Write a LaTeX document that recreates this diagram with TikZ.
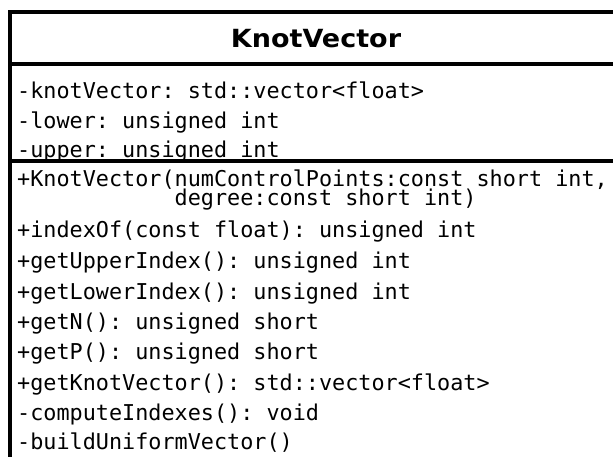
\documentclass[tikz,border=0pt]{standalone}
\usepackage{fontspec}
\setmainfont{DejaVu Sans}
\setmonofont{DejaVu Sans Mono}
\begin{document}
\begin{tikzpicture}[x=1pt,y=-1pt,
  frame/.style={line width=3.6pt,line cap=rect},
  member/.style={anchor=base west,inner sep=0pt,font=\ttfamily\fontsize{21.8}{24}\selectfont},
  classname/.style={anchor=base,inner sep=0pt,font=\bfseries\fontsize{25}{28}\selectfont}]
\useasboundingbox (0,0) rectangle (613,457);
\begin{scope}
\clip (0,0) rectangle (613,457);
% class frame and compartment dividers
\coordinate (tl) at (10,12);
\coordinate (tr) at (640,12);
\coordinate (bl) at (10,480);
\coordinate (d1l) at (10,64);
\coordinate (d1r) at (640,64);
\coordinate (d2l) at (10,161);
\coordinate (d2r) at (640,161);
\draw[frame] (bl) -- (tl) -- (tr);
\draw[frame] (d1l) -- (d1r);
\draw[frame] (d2l) -- (d2r);
\end{scope}
% class name
\node[classname] (title) at (316,48) {\scalebox{1.08}[1]{KnotVector}};
% attributes
\node[member] (a1) at (17,99) {-knotVector: std::vector<float>};
\node[member] (a2) at (17,129) {-lower: unsigned int};
\node[member] (a3) at (17,158) {-upper: unsigned int};
% operations: the constructor signature wraps onto an indented second line
\node[member] (m1) at (17,187) {+KnotVector(numControlPoints:const short int,};
\node[member] (m1b) at (17,206) {\ \ \ \ \ \ \ \ \ \ \ \ degree:const short int)};
\node[member] (m2) at (17,237) {+indexOf(const float): unsigned int};
\node[member] (m3) at (17,269) {+getUpperIndex(): unsigned int};
\node[member] (m4) at (17,299) {+getLowerIndex(): unsigned int};
\node[member] (m5) at (17,329) {+getN(): unsigned short};
\node[member] (m6) at (17,359) {+getP(): unsigned short};
\node[member] (m7) at (17,390) {+getKnotVector(): std::vector<float>};
\node[member] (m8) at (17,420) {-computeIndexes(): void};
\node[member] (m9) at (17,449) {-buildUniformVector()};
\end{tikzpicture}
\end{document}
